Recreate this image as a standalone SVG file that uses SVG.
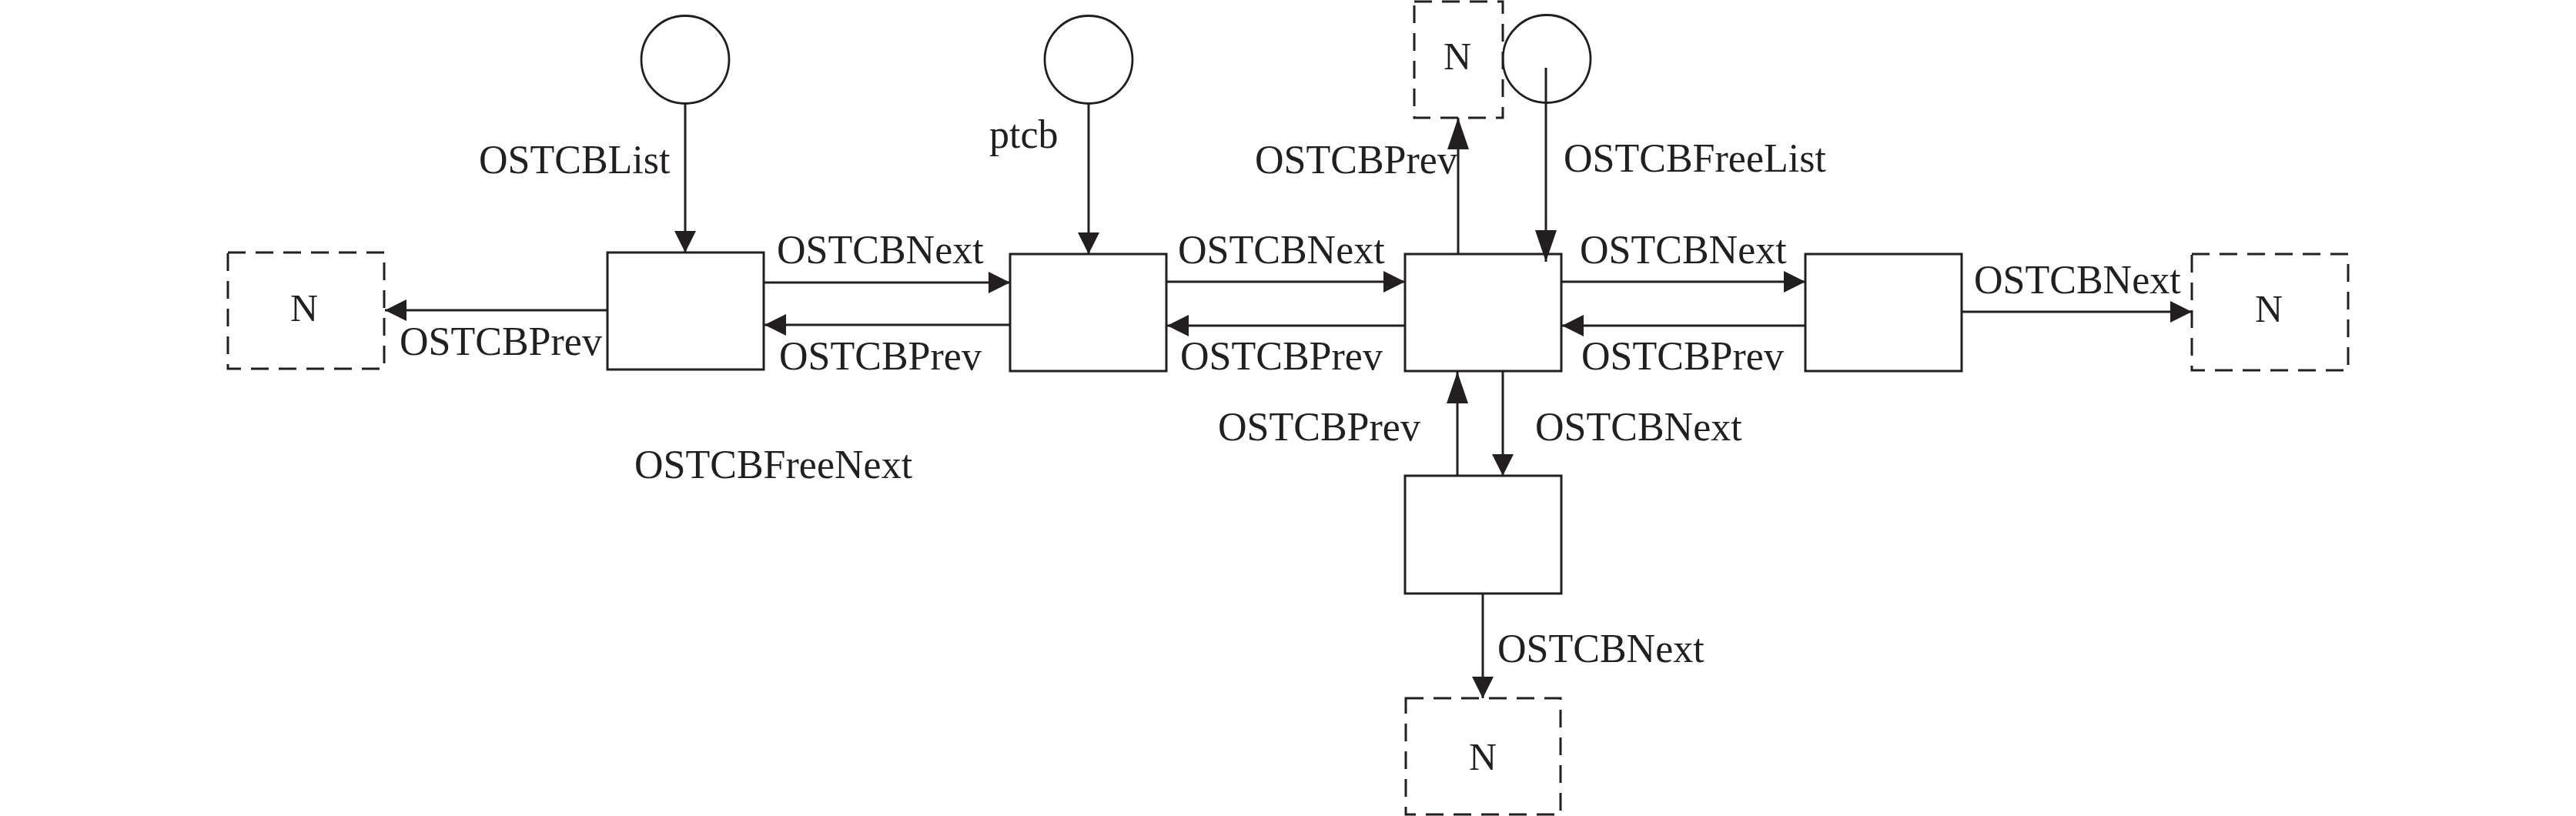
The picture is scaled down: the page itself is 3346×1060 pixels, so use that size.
<svg xmlns="http://www.w3.org/2000/svg" width="3346" height="1060" viewBox="0 0 3346 1060">
<style>
.box{fill:#fff;stroke:#231f20;stroke-width:3}
.dash{fill:#fff;stroke:#231f20;stroke-width:3;stroke-dasharray:23 13}
.circ{fill:#fff;stroke:#231f20;stroke-width:2.8}
.ln{stroke:#231f20;stroke-width:3;fill:none}
.t{font-family:"Liberation Serif","Times New Roman",serif;font-size:52px;fill:#231f20}
.n{font-family:"Liberation Serif","Times New Roman",serif;font-size:50px;fill:#231f20;text-anchor:middle}
</style>
<defs>
<marker id="ah" markerUnits="userSpaceOnUse" viewBox="0 0 28 28" markerWidth="28" markerHeight="28" refX="28" refY="14" orient="auto">
<path d="M0,0 L28,14 L0,28 z" fill="#231f20"/>
</marker>
<marker id="ahl" markerUnits="userSpaceOnUse" viewBox="0 0 41 28" markerWidth="41" markerHeight="28" refX="41" refY="14" orient="auto">
<path d="M0,0 L41,14 L0,28 z" fill="#231f20"/>
</marker>
</defs>
<rect width="3346" height="1060" fill="#fff"/>

<g id="nodes">
<g id="head-ostcblist"><circle class="circ" cx="890" cy="77.5" r="57"/></g>
<g id="head-ptcb"><circle class="circ" cx="1414" cy="77.5" r="57"/></g>
<g id="head-freelist"><circle class="circ" cx="2009" cy="76.5" r="57"/></g>
<g id="n-left"><rect class="dash" x="296" y="328" width="203" height="151"/><text class="n" x="395" y="417">N</text></g>
<g id="n-top"><rect class="dash" x="1837" y="2" width="115" height="151"/><text class="n" x="1893" y="90">N</text></g>
<g id="n-right"><rect class="dash" x="2847" y="330" width="203" height="151"/><text class="n" x="2947" y="418">N</text></g>
<g id="n-bottom"><rect class="dash" x="1826" y="907" width="201" height="151"/><text class="n" x="1926" y="1000">N</text></g>
<g id="tcb1"><rect class="box" x="789" y="328" width="203" height="152"/></g>
<g id="tcb2"><rect class="box" x="1312" y="330" width="203" height="152"/></g>
<g id="tcb3"><rect class="box" x="1825" y="330" width="203" height="152"/></g>
<g id="tcb4"><rect class="box" x="2345" y="330" width="203" height="152"/></g>
<g id="tcb5"><rect class="box" x="1825" y="618" width="203" height="153"/></g>
</g>

<g id="connectors">
<line class="ln" x1="890" y1="135" x2="890" y2="328" marker-end="url(#ah)"/>
<line class="ln" x1="1414" y1="135" x2="1414" y2="330" marker-end="url(#ah)"/>
<line class="ln" x1="2008" y1="88" x2="2008" y2="340" marker-end="url(#ahl)"/>
<line class="ln" x1="1894" y1="330" x2="1894" y2="153" marker-end="url(#ahl)"/>
<line class="ln" x1="789" y1="403" x2="500" y2="403" marker-end="url(#ah)"/>
<line class="ln" x1="992" y1="367" x2="1312" y2="367" marker-end="url(#ah)"/>
<line class="ln" x1="1312" y1="422" x2="993" y2="422" marker-end="url(#ah)"/>
<line class="ln" x1="1515" y1="366" x2="1825" y2="366" marker-end="url(#ah)"/>
<line class="ln" x1="1825" y1="423" x2="1516" y2="423" marker-end="url(#ah)"/>
<line class="ln" x1="2028" y1="366" x2="2345" y2="366" marker-end="url(#ah)"/>
<line class="ln" x1="2345" y1="423" x2="2029" y2="423" marker-end="url(#ah)"/>
<line class="ln" x1="2548" y1="405" x2="2847" y2="405" marker-end="url(#ah)"/>
<line class="ln" x1="1893" y1="618" x2="1893" y2="483" marker-end="url(#ahl)"/>
<line class="ln" x1="1952" y1="482" x2="1952" y2="618" marker-end="url(#ah)"/>
<line class="ln" x1="1926" y1="771" x2="1926" y2="907" marker-end="url(#ah)"/>
</g>

<g id="labels">
<text class="t" x="622" y="225">OSTCBList</text>
<text class="t" x="1285" y="192">ptcb</text>
<text class="t" x="1630" y="225">OSTCBPrev</text>
<text class="t" x="2031" y="223">OSTCBFreeList</text>
<text class="t" x="1009" y="342">OSTCBNext</text>
<text class="t" x="1530" y="342">OSTCBNext</text>
<text class="t" x="2052" y="342">OSTCBNext</text>
<text class="t" x="2564" y="381">OSTCBNext</text>
<text class="t" x="519" y="461">OSTCBPrev</text>
<text class="t" x="1012" y="480">OSTCBPrev</text>
<text class="t" x="1533" y="480">OSTCBPrev</text>
<text class="t" x="2054" y="480">OSTCBPrev</text>
<text class="t" x="824" y="621">OSTCBFreeNext</text>
<text class="t" x="1582" y="572">OSTCBPrev</text>
<text class="t" x="1994" y="572">OSTCBNext</text>
<text class="t" x="1945" y="860">OSTCBNext</text>
</g>
</svg>
